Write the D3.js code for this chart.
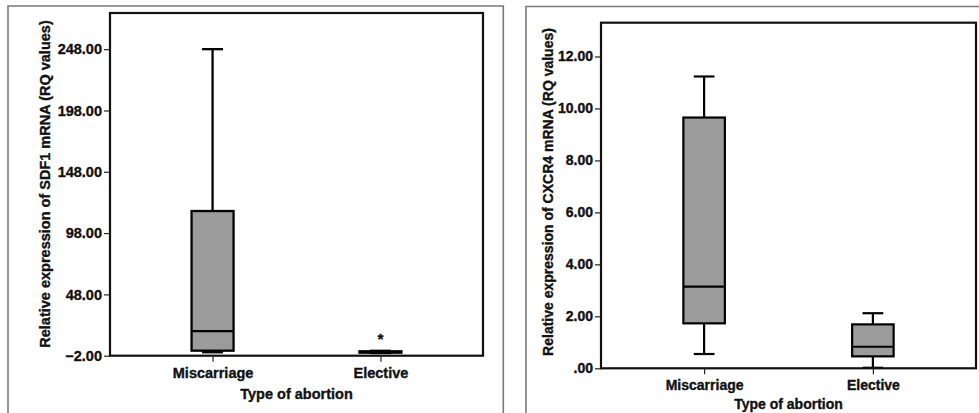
<!DOCTYPE html>
<html><head><meta charset="utf-8">
<script src="https://cdn.jsdelivr.net/npm/d3@7"></script>
<style>
html,body{margin:0;padding:0;background:#fff;}
svg{display:block;}
text{font-family:"Liberation Sans",Arial,sans-serif;font-weight:bold;fill:#111;stroke:#111;stroke-width:0.35px;}
</style></head>
<body>
<svg id="chart" width="979" height="413"></svg>
<script>
// ---- data ----
const categories = ["Miscarriage", "Elective"];

// SDF1 panel (left)
const sdf1Min    = [0.8, 0.2];
const sdf1Q1     = [2.1, 0.5];
const sdf1Median = [18.0, 0.9];
const sdf1Q3     = [116.0, 1.6];
const sdf1Max    = [248.0, 2.0];
const sdf1Outliers = [[], [15.5]];
const sdf1Ticks  = [-2, 48, 98, 148, 198, 248];
const sdf1Domain = [-2, 277.5];

// CXCR4 panel (right)
const cxcr4Min    = [0.55, 0.02];
const cxcr4Q1     = [1.73, 0.46];
const cxcr4Median = [3.14, 0.83];
const cxcr4Q3     = [9.65, 1.69];
const cxcr4Max    = [11.23, 2.12];
const cxcr4Outliers = [[], []];
const cxcr4Ticks  = [0, 2, 4, 6, 8, 10, 12];
const cxcr4Domain = [0, 13.3];

const xTitle = "Type of abortion";
const sdf1YTitle = "Relative expression of SDF1 mRNA (RQ values)";
const cxcr4YTitle = "Relative expression of CXCR4 mRNA (RQ values)";

// ---- drawing ----
const svg = d3.select("#chart");

function fmt(v){ return d3.format(".2f")(v).replace(/^(-?)0\./, "$1."); }

// outer panel frames (no bottom edge, cut off by image)
svg.append("path").attr("d","M8,413 V6 H503.3 V413")
  .attr("fill","none").attr("stroke","#7a7a7a").attr("stroke-width",1.6);
svg.append("path").attr("d","M526,413 V6.5 H985")
  .attr("fill","none").attr("stroke","#7a7a7a").attr("stroke-width",1.6);

function drawPanel(o){
  const g = svg.append("g");
  const y = d3.scaleLinear().domain(o.domain).range([o.bottom, o.top]);
  const x = d3.scalePoint().domain(categories).range([o.left, o.right]).padding(0.611);

  const boxW = o.boxW, capW = o.boxW/2;
  categories.forEach((c,i)=>{
    const cx = x(c);
    const bg = g.append("g").attr("stroke","#000").attr("stroke-width",o.sw);
    bg.append("line").attr("x1",cx).attr("x2",cx).attr("y1",y(o.q3[i])).attr("y2",y(o.max[i]));
    bg.append("line").attr("x1",cx).attr("x2",cx).attr("y1",y(o.q1[i])).attr("y2",y(o.min[i]));
    bg.append("line").attr("x1",cx-capW/2).attr("x2",cx+capW/2).attr("y1",y(o.max[i])).attr("y2",y(o.max[i]));
    bg.append("line").attr("x1",cx-capW/2).attr("x2",cx+capW/2).attr("y1",y(o.min[i])).attr("y2",y(o.min[i]));
    bg.append("rect").attr("x",cx-boxW/2).attr("width",boxW)
      .attr("y",y(o.q3[i])).attr("height",Math.max(0.01,y(o.q1[i])-y(o.q3[i])))
      .attr("fill","#9b9b9b");
    bg.append("line").attr("x1",cx-boxW/2).attr("x2",cx+boxW/2).attr("y1",y(o.median[i])).attr("y2",y(o.median[i]));
    o.outliers[i].forEach(v=>{
      g.append("text").attr("x",cx).attr("y",y(v)).attr("dy","0.62em")
        .attr("text-anchor","middle").style("font-size",(o.fs+1)+"px").text("*");
    });
  });

  g.append("rect").attr("x",o.left).attr("y",o.top).attr("width",o.right-o.left).attr("height",o.bottom-o.top)
    .attr("fill","none").attr("stroke","#111").attr("stroke-width",2.2);

  const ya = g.append("g").attr("transform",`translate(${o.left},0)`)
    .call(d3.axisLeft(y).tickValues(o.ticks).tickFormat(fmt).tickSize(6).tickPadding(2));
  ya.select(".domain").remove();
  ya.selectAll("line").attr("stroke","#222").attr("stroke-width",1.2);
  ya.selectAll("text").style("font-size",o.fs+"px").attr("font-family",null).attr("fill","#111");

  const xa = g.append("g").attr("transform",`translate(0,${o.bottom})`)
    .call(d3.axisBottom(x).tickSize(6).tickPadding(6));
  xa.select(".domain").remove();
  xa.selectAll("line").attr("stroke","#222").attr("stroke-width",1.2);
  xa.selectAll("text").style("font-size",o.fs+"px").attr("font-family",null).attr("fill","#111");

  g.append("text").attr("x",(o.left+o.right)/2).attr("y",o.xTitleY)
    .attr("text-anchor","middle").style("font-size",o.fs+"px").text(xTitle);
  g.append("text").attr("transform",`translate(${o.yTitleX},${o.yTitleCY}) rotate(-90)`)
    .attr("text-anchor","middle").style("font-size",o.fs+"px").text(o.yTitle);
}

drawPanel({left:110, right:483, top:13, bottom:355.7, domain:sdf1Domain, ticks:sdf1Ticks,
  min:sdf1Min, q1:sdf1Q1, median:sdf1Median, q3:sdf1Q3, max:sdf1Max, outliers:sdf1Outliers,
  boxW:42, sw:2.3, fs:14.5, xTitleY:399, yTitleX:50, yTitleCY:184, yTitle:sdf1YTitle});

drawPanel({left:601, right:976, top:22.7, bottom:368.3, domain:cxcr4Domain, ticks:cxcr4Ticks,
  min:cxcr4Min, q1:cxcr4Q1, median:cxcr4Median, q3:cxcr4Q3, max:cxcr4Max, outliers:cxcr4Outliers,
  boxW:41.5, sw:2.2, fs:14, xTitleY:409, yTitleX:553, yTitleCY:192, yTitle:cxcr4YTitle});
</script>
</body></html>
